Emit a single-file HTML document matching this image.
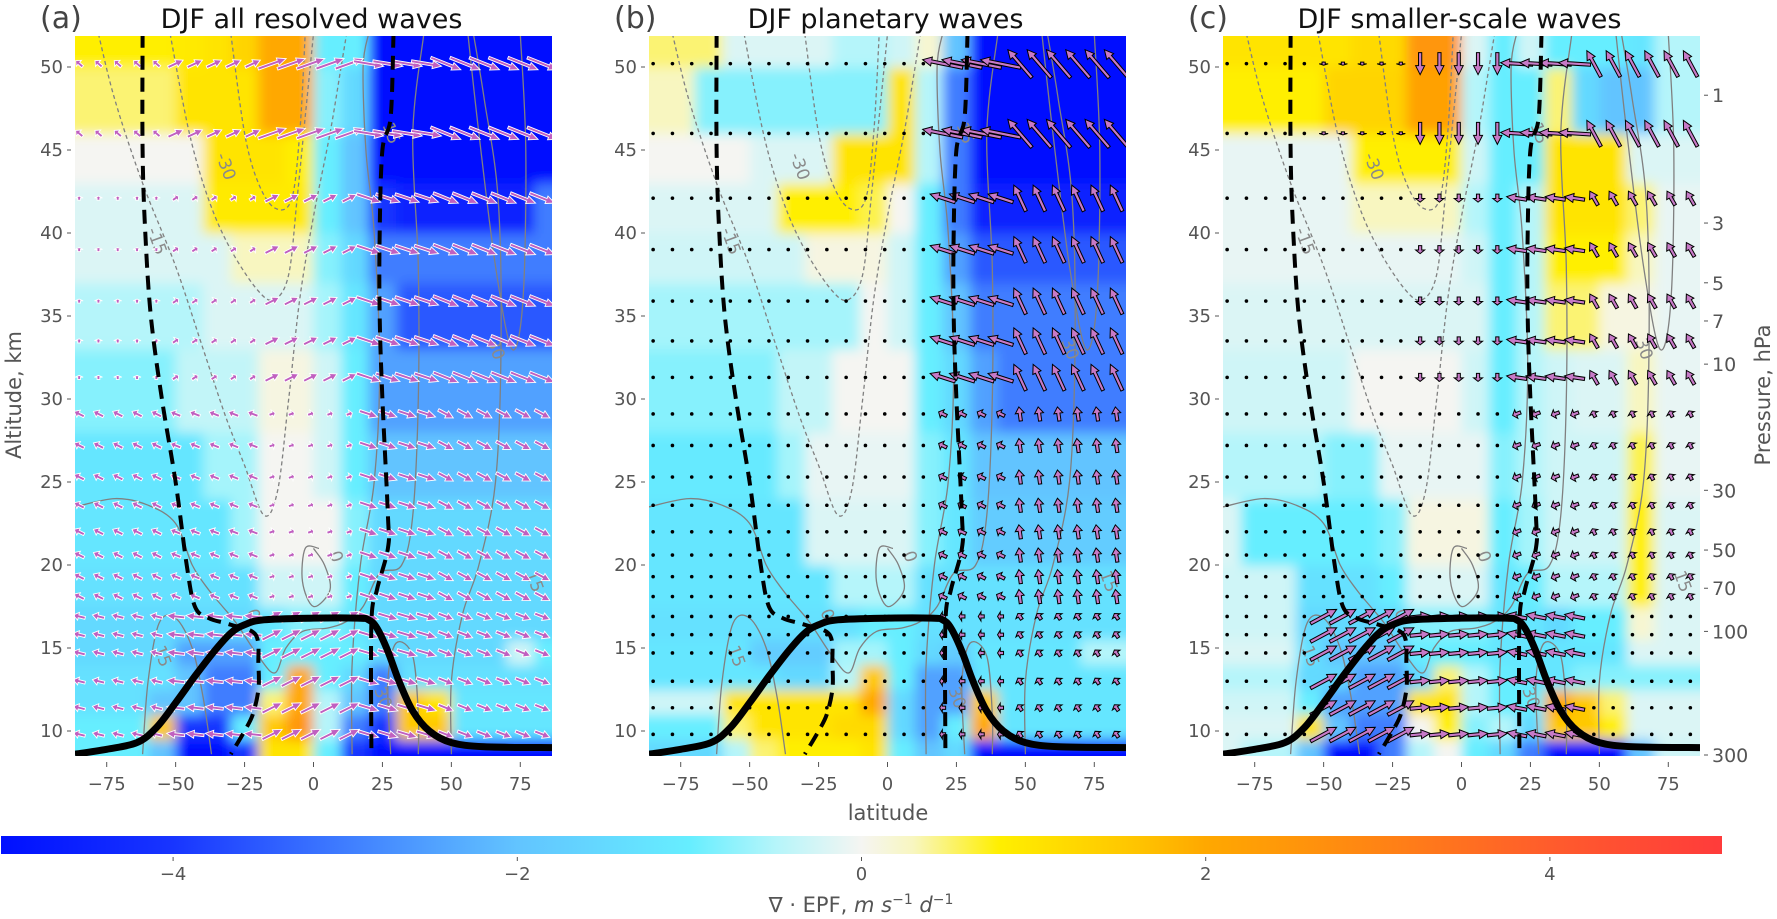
<!DOCTYPE html>
<html><head><meta charset="utf-8">
<style>
html,body{margin:0;padding:0;background:#fff;}
svg{display:block;font-family:"DejaVu Sans","Liberation Sans",sans-serif;}
</style></head>
<body>
<svg id="chart" width="1777" height="919" viewBox="0 0 1777 919" xmlns="http://www.w3.org/2000/svg">
<defs>
<filter id="blur" x="-5%" y="-5%" width="110%" height="110%"><feGaussianBlur stdDeviation="6"/></filter>
<linearGradient id="cbgrad" x1="0" x2="1" y1="0" y2="0">
<stop offset="0" stop-color="#0010ff"/><stop offset="0.1" stop-color="#1835ff"/><stop offset="0.2" stop-color="#3f7dff"/>
<stop offset="0.3" stop-color="#62c4ff"/><stop offset="0.4" stop-color="#66eeff"/><stop offset="0.45" stop-color="#b5f5fa"/>
<stop offset="0.5" stop-color="#f5f5f2"/><stop offset="0.53" stop-color="#f8f6c0"/><stop offset="0.58" stop-color="#ffef00"/>
<stop offset="0.66" stop-color="#ffc400"/><stop offset="0.7" stop-color="#ffa800"/><stop offset="0.8" stop-color="#ff8414"/>
<stop offset="0.9" stop-color="#ff5c2c"/><stop offset="1" stop-color="#ff3b3b"/>
</linearGradient>
</defs>
</svg>
<script>
// ---------- data ----------
const latCenters=[-85,-75,-65,-55,-45,-35,-25,-15,-5,5,15,25,35,45,55,65,75,85];
const altEdges=[8.5,9.5,11,12.5,14,15.5,17.5,20,24,28,33,37,40,43,46,50,52];
// rows bottom->top, columns lat -85..85
const divA=[
[-1,-1,-1,-2,-5,-5,-4,1,1,-1,-4,-5,-5,-5,-5,-5,-5,-5],
[-1,-1,-1,1.5,-4,-4,-1,1.5,2.5,-0.5,-3,-4,1.5,1.5,-1.2,-1.2,-1.2,-1.2],
[-1.3,-1.3,-1.3,-2,-2,-3,-3,0.5,2,-0.5,-2,-3,1.5,1,-1.2,-1.2,-1.2,-1.2],
[-1.3,-1.3,-1.3,-1.3,-2,-3,-3,-1,2,-1,-1.5,-3,-1.3,-1.3,-1.3,-1.3,-1.3,-1.3],
[-1.5,-1.5,-1.5,-1.5,-2.5,-2.5,-2.5,-1,-1,-1,-1,-1.5,-1.5,-1.5,-1.5,-1.5,-0.3,-1],
[-1.5,-1.5,-1.5,-1.5,-1.5,-1.5,-1.5,-1.2,-0.8,-0.8,-1.2,-1.5,-1.5,-1.5,-1.5,-1.5,-1.5,-1.5],
[-1.3,-1.3,-1.3,-1.3,-1.3,-1.3,-1.3,-0.3,-0.3,-0.3,-1,-1.5,-1.5,-1.5,-1.5,-1.5,-1.5,-1.5],
[-1.2,-1.2,-1.2,-1.2,-1.2,-1.2,-0.6,0,0,0,-0.8,-1.5,-1.5,-1.5,-1.5,-1.5,-1.5,-1.5],
[-1.2,-1.2,-1.2,-1.2,-1.2,-0.6,-0.6,0,0,-0.3,-1,-2,-2,-2,-2,-2,-2,-2],
[-0.8,-0.8,-0.8,-0.8,-0.4,-0.4,-0.4,0.1,0.1,-0.3,-1,-2.5,-2.5,-2.5,-2.5,-2.5,-2.5,-2.5],
[-0.5,-0.5,-0.5,-0.5,-0.5,-0.2,-0.2,-0.2,-0.2,-0.6,-1.2,-2.5,-3.5,-3.5,-3.5,-3.5,-3.5,-3.5],
[-0.2,-0.2,-0.2,-0.2,-0.2,-0.2,0.3,0.3,0.3,-0.8,-1.5,-3,-3,-3,-3,-3,-3,-3],
[-0.2,-0.2,-0.2,-0.2,-0.2,0.9,0.9,0.9,0.9,-1,-2,-4,-4.5,-4.5,-4.5,-4.5,-4.5,-3],
[0,0,0,0,0,1,1,1,0.8,-1,-2,-5,-5,-5,-5,-5,-5,-5],
[0.5,0.5,0.5,0.5,1,1,1,2,2,-0.8,-1.5,-5,-5,-5,-5,-5,-5,-5],
[0.8,0.8,0.8,0.8,0.9,1,1.3,2,2,-1,-1,-5,-5,-5,-5,-5,-5,-5]];
const divB=[
[-1.5,-1.5,-1.5,-0.5,0.5,0.8,0.8,0.8,1,-1,-2,-1.5,-5,-5,-5,-5,-5,-5],
[-1,-1,-1,0.5,1,1,1,1.2,1.2,-1.5,-2.5,-1,2,-1.2,-1.2,-1.2,-1.2,-1.2],
[-0.3,-0.3,-0.3,1,1,1,1,1,2,-1.5,-2.5,-2.5,1.5,-1.2,-1.2,-1.2,-1.2,-1.2],
[-1.2,-1.2,-1.2,-1.2,-1.2,-1.5,-1.5,-0.5,1.5,-1,-2.5,-2.5,-1.2,-1.2,-1.2,-1.2,-1.2,-1.2],
[-1.2,-1.2,-1.2,-1.2,-1.8,-1.8,-1.8,-0.6,-0.6,-1,-1.5,-1.8,-1.2,-1.2,-1.2,-1.2,-0.5,-0.5],
[-1.3,-1.3,-1.3,-1.3,-1.3,-1.3,-1.3,-1.3,-1,-1,-1.3,-1.3,-1.3,-1.3,-1.3,-1.3,-1.3,-1.3],
[-1.2,-1.2,-1.2,-1.2,-1.2,-1.2,-1.2,-0.5,-0.5,-0.5,-1.3,-1.3,-1.3,-1.3,-1.3,-1.3,-1.3,-1.3],
[-1.2,-1.2,-1.2,-1.2,-1.2,-1.2,-0.2,-0.2,-0.2,-0.2,-0.8,-1.2,-1.8,-1.8,-1.8,-1.8,-1.8,-1.8],
[-1.1,-1.1,-1.1,-1.1,-1.1,-0.6,-0.1,-0.1,-0.1,-0.1,-0.8,-1.2,-2,-2,-2,-2,-2,-2],
[-0.8,-0.8,-0.8,-0.8,-0.8,-0.4,-0.4,0,0,0,-1,-1.5,-2.5,-3,-3,-3,-3,-3],
[-0.6,-0.6,-0.6,-0.6,-0.6,-0.6,-0.6,-0.6,0,-0.3,-1,-2,-3,-3,-3,-3,-3,-3],
[-0.3,-0.3,-0.3,-0.3,-0.3,-0.3,0.1,0.1,0.1,-0.3,-1,-2.5,-3.5,-3.5,-3.5,-3.5,-3.5,-3.5],
[-0.2,-0.2,-0.2,-0.2,-0.2,0.8,0.8,0.8,0.6,0,-1,-3,-4.5,-4.5,-4.5,-4.5,-4.5,-4.5],
[0,0,0,0,-0.2,-0.2,-0.2,1,1,1,-0.5,-3,-5,-5,-5,-5,-5,-5],
[0.3,0.3,-0.8,-0.8,-0.8,-0.8,-0.8,-0.8,-0.8,1,-0.5,-3,-5,-5,-5,-5,-5,-5],
[0.5,0.5,0.5,-0.2,-0.2,-0.2,-0.2,-0.5,-0.5,-0.3,0.2,-2,-5,-5,-5,-5,-5,-5]];
const divC=[
[-0.2,-0.5,-0.5,-2,-5,-5,-3,-0.5,0,-1,-1.5,-3,-5,-5,-5,-2,-0.3,-0.3],
[-0.2,-0.2,-0.2,1,-2,-3,-3,0,0.8,-0.8,-0.5,-1.5,1.5,1.5,0.8,-0.2,-0.2,-0.2],
[-0.3,-0.3,-0.3,-1,-2.5,-2.5,-2.5,1,1,-0.5,-1,-1,2,1.5,0.5,-0.2,-0.2,-0.2],
[-0.5,-0.5,-0.5,-1.5,-1.5,-2.5,-2.5,-1.5,0.5,-0.5,-1,-1.2,-1.2,-0.8,-0.8,-0.8,-0.8,-0.8],
[-0.2,-0.2,-0.2,-1.3,-2,-2,-2,-1,-1,-1,-1.2,-1.2,-1.2,-1.2,-1.2,-0.2,-0.2,-0.2],
[-0.3,-0.3,-0.3,-1.5,-1.5,-1.5,-1.5,-0.8,-0.8,-0.8,-1.2,-1.2,-1.5,-1,-1,0.2,-0.2,-0.2],
[-0.3,-0.3,-0.3,-1.3,-1.3,-1.3,-1,-0.2,-0.2,-0.2,-1.2,-1,-0.5,-0.5,-0.5,0.8,-0.2,-0.2],
[-0.2,-1,-1,-1,-1,-1,-0.8,0.1,0.1,0.1,-1,-0.6,-0.3,-0.3,-0.3,0.8,-0.2,-0.2],
[-0.5,-0.5,-0.5,-0.5,-0.8,-0.8,-0.1,-0.1,-0.1,-0.1,-0.8,-0.5,-0.3,-0.3,-0.3,0.6,-0.1,-0.1],
[-0.3,-0.3,-0.3,-0.3,-0.3,0,0,0,0,-0.3,-1,-0.5,-0.3,-0.2,-0.2,0.3,-0.1,-0.1],
[-0.2,-0.2,-0.2,-0.2,-0.2,-0.2,-0.2,-0.2,-0.2,-0.2,-1,-0.5,0.5,0.5,0.1,0.1,-0.1,-0.1],
[-0.1,-0.1,-0.1,-0.1,-0.1,-0.1,-0.1,-0.1,-0.1,-0.3,-1,-0.5,0.8,0.8,0.8,0.3,-0.1,-0.1],
[-0.1,-0.1,-0.1,-0.1,-0.1,0.3,0.3,0.3,0.3,-0.5,-1,-0.5,1,1,1,0.5,-0.1,-0.1],
[-0.1,-0.1,-0.1,-0.1,-0.1,0.8,0.8,0.8,0.8,-0.3,-1,-1,1,1,1,-0.2,-0.2,-0.2],
[0.8,0.8,0.8,0.8,1.3,1.3,1.3,2.2,2.2,-0.5,-1,-1,0.5,-1.5,-2,-2,-0.5,-0.5],
[1,1,1,1,1,1.2,1.2,2.5,2.5,-0.2,-1,-0.3,-1,-1,-1,-1.2,-0.5,-0.5]];

// black lines
const tropLat=[-86.5,-75,-64,-57,-50,-43,-36,-30,-25,-18,0,16,20,23,27,31,36,42,50,62,86.5];
const tropAlt=[8.6,8.9,9.3,10.2,11.7,13.3,14.8,15.9,16.4,16.7,16.8,16.8,16.7,16.2,14.8,13.0,11.2,10.0,9.3,9.05,9.0];
const dashLLat=[-62,-62,-61,-59,-55,-50,-46,-43,-38,-30,-21,-20,-20,-22,-25,-30];
const dashLAlt=[52,45,40,35,30,25,20,17.5,16.8,16.4,15.8,14,12.5,11,10,8.6];
const dashRLat=[29,28,25,24,24,25,27,27,23,21,21];
const dashRAlt=[52,47,45,40,35,30,23,21,18.5,16.5,8.6];

// wind contours (lat, alt pairs)
const contours=[
 {dash:true,lat:[-78,-72,-62,-50,-40,-32,-25,-18,-13,-9,-5,0,6,10,12],alt:[52,48,43,38,33,29,26,23,24.5,30,36,41,46,50,52]},
 {dash:true,lat:[-52,-45,-38,-30,-20,-14,-9,-6,-3,0],alt:[52,46,42,39,36.5,36,37.5,42,47,52]},
 {dash:true,lat:[-30,-25,-20,-14,-8,-5,-3],alt:[52,46,43,41.5,42,46,52]},
 {dash:false,lat:[-86.5,-72,-60,-50,-44,-38,-33,-28,-20,-14,-10,-4,5,12,18,24,32,36,38,38,36,40],alt:[23.5,24,23.6,22.5,20,18.5,17.5,16.5,14.5,13.5,15,16,16.2,16.6,17.5,19.5,20,23,30,38,46,52]},
 {dash:false,lat:[-62,-60,-56,-50,-44,-40,-37],alt:[8.6,13,16.5,16.8,15,12,8.6]},
 {dash:false,lat:[14,14,17,22,24,22,19,18,20],alt:[8.6,14,20,25,32,40,45,50,52]},
 {dash:false,lat:[28,27,30,36,38,38],alt:[8.6,13,15.3,14.5,11,8.6]},
 {dash:false,lat:[50,50,54,60,66,68,67,62,58],alt:[8.6,13,17,20,25,33,42,48,52]},
 {dash:false,lat:[56,60,66,72,76,77,75],alt:[52,46,38,33,36,45,52]},
 {dash:false,lat:[2,-3,-4,0,6,4,0],alt:[21,21,19,17.5,18.5,20,21]}
];
const contourLabels=[["-30",-32,44],["-15",-57,39.5],["0",-22,17],["15",-55,14.5],["30",25,12],["15",28,46],["0",8,20.5],["30",66,33],["15",80,19]];

// EP-flux arrow grid
const arrowLats=[-85,-78,-71,-64,-57,-50,-43,-36,-29,-22,-15,-8,-1,6,13,20,27,34,41,48,55,62,69,76,83];
const arrowAlts=[50.2,46,42.1,39,35.9,33.5,31.3,29.1,27.2,25.3,23.6,22,20.6,19.3,18.1,16.9,15.8,14.7,13,11.4,9.8];
const bandEdges=[-90,-55,-20,15,45,90];
const groupEdges=[43,30,18,0]; // alt >= edge -> group index
// per group (alt >=43, 30-43, 18-30, <18) -> per lat band [u,v] in px
const flowA=[
 [[-7,6],[15,7],[28,10],[30,-5],[30,-12]],
 [[0,4],[6,4],[14,7],[24,-8],[25,-10]],
 [[-10,5],[-10,4],[6,2],[18,-6],[15,-8]],
 [[-12,3],[-18,2],[20,10],[20,-6],[15,-6]]];
const flowB=[
 [[0,0],[0,0],[0,0],[-40,8],[-24,28]],
 [[0,0],[0,0],[0,0],[-25,8],[-12,26]],
 [[0,0],[0,0],[0,0],[-8,4],[-2,14]],
 [[0,0],[0,0],[0,0],[-6,0],[-4,6]]];
const flowC=[
 [[0,0],[0,-3],[0,-22],[-32,2],[-14,26]],
 [[0,0],[0,0],[0,-8],[-20,3],[-8,14]],
 [[0,0],[0,0],[0,0],[-8,-3],[-3,6]],
 [[0,0],[26,14],[20,2],[-20,4],[0,0]]];

const xTicks=[-75,-50,-25,0,25,50,75];
const yTicks=[10,15,20,25,30,35,40,45,50];
const pLabels=["1","3","5","7","10","30","50","70","100","300"];
const pAlts=[48.3,40.6,37.0,34.7,32.1,24.5,20.9,18.6,16.0,8.6];
const cbTicks=[-4,-2,0,2,4];

// ---------- geometry ----------
const NS='http://www.w3.org/2000/svg';
const svg=document.getElementById('chart');
const PX=[75,649,1223], PW=477, PT=36, PB=756;
const LAT0=-86.5, LAT1=86.5;
function xs(p,lat){return PX[p]+(lat-LAT0)*PW/(LAT1-LAT0);}
function ys(alt){return 648-(alt-15)*16.6;}
function mk(tag,attrs,parent){const e=document.createElementNS(NS,tag);for(const k in attrs)e.setAttribute(k,attrs[k]);(parent||svg).appendChild(e);return e;}
const stops=[[-5,[0,16,255]],[-4,[24,53,255]],[-3,[63,125,255]],[-2,[98,196,255]],[-1,[102,238,255]],[-0.5,[181,245,250]],[0,[245,245,242]],[0.3,[248,246,192]],[0.8,[255,239,0]],[1.6,[255,196,0]],[2,[255,168,0]],[3,[255,132,20]],[4,[255,92,44]],[5,[255,59,59]]];
function cmap(v){v=Math.max(-5,Math.min(5,v));for(let i=0;i<stops.length-1;i++){const a=stops[i],b=stops[i+1];if(v<=b[0]){const t=(v-a[0])/(b[0]-a[0]);const c=a[1].map((x,j)=>Math.round(x+(b[1][j]-x)*t));return `rgb(${c[0]},${c[1]},${c[2]})`;}}return 'rgb(255,59,59)';}

const fields=[divA,divB,divC];
const flows=[flowA,flowB,flowC];
const titles=["DJF all resolved waves","DJF planetary waves","DJF smaller-scale waves"];
const letters=["(a)","(b)","(c)"];
const pnames=["a","b","c"];

function poly(p,lats,alts){return lats.map((l,i)=>xs(p,l).toFixed(1)+','+ys(alts[i]).toFixed(1)).join(' ');}
function smoothPath(p,lats,alts){
  const pts=lats.map((l,i)=>[xs(p,l),ys(alts[i])]);
  let d='M'+pts[0][0].toFixed(1)+','+pts[0][1].toFixed(1);
  for(let i=0;i<pts.length-1;i++){
    const p0=pts[Math.max(0,i-1)],p1=pts[i],p2=pts[i+1],p3=pts[Math.min(pts.length-1,i+2)];
    const c1=[p1[0]+(p2[0]-p0[0])/6,p1[1]+(p2[1]-p0[1])/6];
    const c2=[p2[0]-(p3[0]-p1[0])/6,p2[1]-(p3[1]-p1[1])/6];
    d+=` C${c1[0].toFixed(1)},${c1[1].toFixed(1)} ${c2[0].toFixed(1)},${c2[1].toFixed(1)} ${p2[0].toFixed(1)},${p2[1].toFixed(1)}`;
  }
  return d;
}

for(let p=0;p<3;p++){
  const panel=mk('g',{});
  
  
  const cp=mk('clipPath',{id:'clip'+p},panel);
  mk('rect',{x:PX[p],y:PT,width:PW,height:PB-PT},cp);
  const clipG=mk('g',{'clip-path':'url(#clip'+p+')'},panel);
  const heat=mk('g',{filter:'url(#blur)'},clipG);
  
  
  const F=fields[p];
  for(let r=0;r<F.length;r++){
    let a0=altEdges[r],a1=altEdges[r+1];
    if(r===0)a0=7; if(r===F.length-1)a1=54;
    for(let c=0;c<latCenters.length;c++){
      const l0=latCenters[c]-5-(c===0?4:0), l1=latCenters[c]+5+(c===latCenters.length-1?4:0);
      const cell=mk('rect',{x:xs(p,l0),y:ys(a1),width:xs(p,l1)-xs(p,l0)+0.5,height:ys(a0)-ys(a1)+0.5,fill:cmap(F[r][c])},heat);
      
      
    }
  }
  contours.forEach(ct=>{
    const pl=mk('path',{d:smoothPath(p,ct.lat,ct.alt),fill:'none',stroke:'#808080','stroke-width':1.3,'stroke-dasharray':ct.dash?'4,3':'none'},clipG);
    
    
  });
  contourLabels.forEach(cl=>{
    const t=mk('text',{x:xs(p,cl[1]),y:ys(cl[2]),fill:'#8a8a8a','font-size':17,'text-anchor':'middle','dominant-baseline':'middle',transform:`rotate(70 ${xs(p,cl[1])} ${ys(cl[2])})`},clipG);
    t.textContent=cl[0];
    
    
  });
  const ag=mk('g',{},clipG);
  
  
  const FL=flows[p];
  arrowAlts.forEach(alt=>{
    const g=alt>=groupEdges[0]?0:alt>=groupEdges[1]?1:alt>=groupEdges[2]?2:3;
    arrowLats.forEach(lat=>{
      let b=0;while(b<4&&lat>=bandEdges[b+1])b++;
      const u=FL[g][b][0],v=FL[g][b][1];
      const x=xs(p,lat),y=ys(alt);
      const m=Math.hypot(u,v);
      if(m<3){
        if(p>0){const d=mk('circle',{cx:x,cy:y,r:1.8,fill:'#000'},ag);
          
          }
        else{const d=mk('path',{d:`M${x-3},${y+2} L${x+3},${y+2} L${x},${y-3} Z`,fill:'#c060c0',stroke:'#fff','stroke-width':0.6},ag);
          
          }
        return;
      }
      const ux=u/m,uy=-v/m;
      const x0=x-u/2,y0=y+v/2,x1=x+u/2,y1=y-v/2;
      const hl=Math.min(9,m*0.45), hw=p===0?4:4.5;
      const bx=x1-ux*hl,by=y1-uy*hl;
      const px=-uy,py=ux;
      const sw=p===0?1.4:1.6;
      const d=`M${x0-px*sw},${y0-py*sw} L${bx-px*sw},${by-py*sw} L${bx-px*hw},${by-py*hw} L${x1},${y1} L${bx+px*hw},${by+py*hw} L${bx+px*sw},${by+py*sw} L${x0+px*sw},${y0+py*sw} Z`;
      const a=mk('path',{d:d,fill:p===0?'#c060c0':'#c77ac7',stroke:p===0?'#fff':'#000','stroke-width':p===0?0.9:1},ag);
      
      
    });
  });
  const dl=mk('path',{d:smoothPath(p,dashLLat,dashLAlt),fill:'none',stroke:'#000','stroke-width':4,'stroke-dasharray':'14,8'},clipG);
  
  
  const dr=mk('path',{d:smoothPath(p,dashRLat,dashRAlt),fill:'none',stroke:'#000','stroke-width':4,'stroke-dasharray':'14,8'},clipG);
  
  
  const tl=mk('path',{d:smoothPath(p,tropLat,tropAlt),fill:'none',stroke:'#000','stroke-width':7,'stroke-linejoin':'round'},clipG);
  
  
  xTicks.forEach(t=>{
    const x=xs(p,t);
    mk('line',{x1:x,x2:x,y1:762,y2:767,stroke:'#555','stroke-width':1},panel);
    const tx=mk('text',{x:x,y:790,fill:'#555','font-size':18,'text-anchor':'middle'},panel);
    tx.textContent=(t<0?'\u2212'+(-t):t);
    
    
  });
  yTicks.forEach(t=>{
    const y=ys(t);
    mk('line',{x1:PX[p]-8,x2:PX[p]-4,y1:y,y2:y,stroke:'#555','stroke-width':1},panel);
    const tx=mk('text',{x:PX[p]-12,y:y+6,fill:'#555','font-size':18,'text-anchor':'end'},panel);
    tx.textContent=t;
    
    
  });
  const lt=mk('text',{x:PX[p]-35,y:28,fill:'#444','font-size':30},panel);
  lt.textContent=letters[p];
  
  
  const tt=mk('text',{x:PX[p]+PW/2-2,y:28,fill:'#111','font-size':27,'text-anchor':'middle'},panel);
  tt.textContent=titles[p];
  
  
}
pLabels.forEach((lab,i)=>{
  const y=i===pLabels.length-1?755:ys(pAlts[i]);
  mk('line',{x1:1704,x2:1708,y1:y,y2:y,stroke:'#555','stroke-width':1});
  const t=mk('text',{x:1712,y:y+7,fill:'#555','font-size':19});
  t.textContent=lab;
  
  
});
const pt=mk('text',{x:0,y:0,fill:'#555','font-size':21,'text-anchor':'middle',transform:'translate(1770,395) rotate(-90)'});
pt.textContent='Pressure, hPa';


const at=mk('text',{x:0,y:0,fill:'#555','font-size':21,'text-anchor':'middle',transform:'translate(21,395) rotate(-90)'});
at.textContent='Altitude, km';


const xt=mk('text',{x:888,y:820,fill:'#555','font-size':21,'text-anchor':'middle'});
xt.textContent='latitude';


const CB0=1,CB1=1722;
function cbx(v){return CB0+(v+5)*(CB1-CB0)/10;}
const cb=mk('rect',{x:CB0,y:836,width:CB1-CB0,height:18,fill:'url(#cbgrad)'});


cbTicks.forEach(v=>{
  const x=cbx(v);
  mk('line',{x1:x,x2:x,y1:857,y2:861,stroke:'#555','stroke-width':1});
  const t=mk('text',{x:x,y:880,fill:'#555','font-size':18,'text-anchor':'middle'});
  t.textContent=v<0?'\u2212'+(-v):v;
  
  
});
const cl=mk('text',{x:861,y:912,fill:'#555','font-size':21,'text-anchor':'middle'});
cl.innerHTML='\u2207 \u00b7 EPF, <tspan font-style="italic">m s</tspan><tspan dy="-8" font-size="14">\u22121</tspan><tspan dy="8" font-style="italic"> d</tspan><tspan dy="-8" font-size="14">\u22121</tspan>';


</script>
</body></html>
